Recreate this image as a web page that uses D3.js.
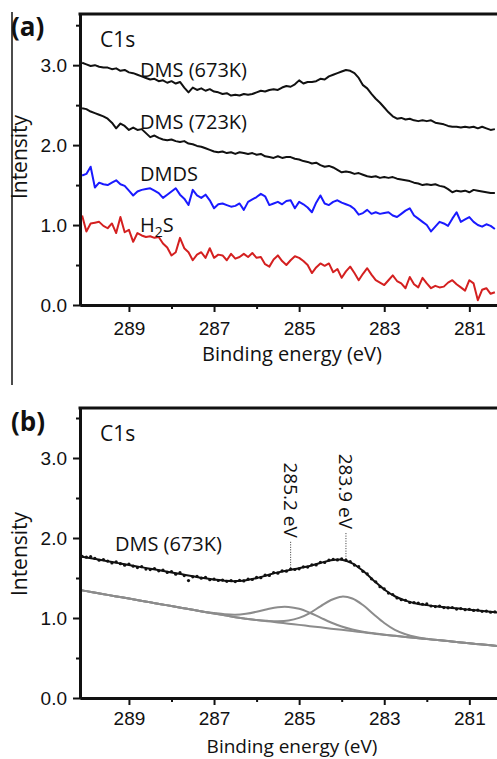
<!DOCTYPE html>
<html>
<head>
<meta charset="utf-8">
<script src="https://cdn.jsdelivr.net/npm/d3@7"></script>
<style>
  html, body { margin: 0; padding: 0; background: #fff; }
  svg { display: block; font-family: "Open Sans", "DejaVu Sans", sans-serif; }
  .tick text { font-size: 19px; fill: #111; }
</style>
</head>
<body>
<svg id="chart" width="497" height="759"></svg>
<script>
// ---- C1s spectra, binding energy 290.1 -> 280.4 eV in 0.1 eV steps ----
const energy = d3.range(98).map(i => +(290.1 - 0.1 * i).toFixed(1));

const dms673 = [
  3.03, 3.01, 2.99, 3.00, 2.98, 2.97, 2.97, 2.95, 2.96, 2.93,
  2.94, 2.91, 2.90, 2.88, 2.86, 2.84, 2.82, 2.83, 2.80, 2.81,
  2.78, 2.80, 2.77, 2.79, 2.72, 2.66, 2.72, 2.69, 2.71, 2.68,
  2.70, 2.67, 2.66, 2.64, 2.65, 2.62, 2.63, 2.62, 2.64, 2.63,
  2.64, 2.66, 2.68, 2.67, 2.69, 2.70, 2.69, 2.72, 2.74, 2.73,
  2.76, 2.81, 2.77, 2.79, 2.79, 2.80, 2.83, 2.82, 2.86, 2.88,
  2.90, 2.92, 2.94, 2.93, 2.90, 2.84, 2.75, 2.71, 2.64, 2.58,
  2.53, 2.47, 2.41, 2.36, 2.33, 2.34, 2.32, 2.33, 2.31, 2.30,
  2.31, 2.30, 2.31, 2.28, 2.27, 2.26, 2.24, 2.23, 2.23, 2.22,
  2.23, 2.22, 2.23, 2.21, 2.23, 2.21, 2.19, 2.20
];

const dms723 = [
  2.46, 2.45, 2.42, 2.40, 2.38, 2.36, 2.33, 2.28, 2.21, 2.27,
  2.24, 2.19, 2.22, 2.19, 2.20, 2.15, 2.10, 2.12, 2.09, 2.07,
  2.06, 2.07, 2.05, 2.04, 2.05, 2.02, 2.01, 1.99, 1.98, 1.96,
  1.94, 1.92, 1.91, 1.92, 1.90, 1.91, 1.89, 1.91, 1.90, 1.89,
  1.90, 1.88, 1.89, 1.86, 1.85, 1.84, 1.86, 1.84, 1.85, 1.85,
  1.83, 1.82, 1.80, 1.79, 1.77, 1.78, 1.75, 1.73, 1.74, 1.72,
  1.69, 1.66, 1.67, 1.66, 1.64, 1.65, 1.63, 1.61, 1.60, 1.61,
  1.59, 1.60, 1.59, 1.60, 1.58, 1.57, 1.56, 1.55, 1.53, 1.52,
  1.50, 1.51, 1.50, 1.51, 1.49, 1.48, 1.45, 1.41, 1.43, 1.42,
  1.43, 1.41, 1.44, 1.43, 1.42, 1.41, 1.40, 1.40
];

const dmds = [
  1.62, 1.64, 1.73, 1.47, 1.53, 1.51, 1.50, 1.53, 1.56, 1.51,
  1.49, 1.43, 1.37, 1.42, 1.44, 1.45, 1.46, 1.43, 1.40, 1.34,
  1.38, 1.42, 1.46, 1.38, 1.33, 1.25, 1.44, 1.37, 1.34, 1.38,
  1.31, 1.21, 1.26, 1.27, 1.25, 1.23, 1.24, 1.27, 1.19, 1.29,
  1.32, 1.35, 1.39, 1.36, 1.25, 1.27, 1.29, 1.26, 1.30, 1.31,
  1.21, 1.29, 1.26, 1.22, 1.16, 1.28, 1.37, 1.27, 1.25, 1.29,
  1.31, 1.28, 1.26, 1.24, 1.20, 1.13, 1.15, 1.19, 1.14, 1.16,
  1.14, 1.15, 1.16, 1.12, 1.10, 1.14, 1.18, 1.21, 1.12, 1.08,
  1.04, 1.00, 0.92, 0.98, 1.04, 1.02, 0.99, 1.08, 1.16, 1.04,
  1.07, 1.10, 1.04, 1.00, 0.98, 1.01, 0.99, 0.95
];

const h2s = [
  1.12, 0.92, 1.02, 1.03, 1.04, 0.99, 0.96, 1.02, 0.90, 1.10,
  0.91, 0.94, 0.79, 0.90, 0.87, 0.85, 0.86, 0.84, 0.85, 0.77,
  0.72, 0.62, 0.66, 0.84, 0.71, 0.66, 0.56, 0.63, 0.66, 0.59,
  0.71, 0.59, 0.63, 0.62, 0.56, 0.64, 0.58, 0.60, 0.64, 0.60,
  0.65, 0.59, 0.60, 0.51, 0.48, 0.57, 0.62, 0.55, 0.50, 0.56,
  0.61, 0.59, 0.55, 0.50, 0.40, 0.47, 0.52, 0.49, 0.52, 0.41,
  0.45, 0.34, 0.42, 0.48, 0.40, 0.31, 0.39, 0.46, 0.38, 0.31,
  0.28, 0.25, 0.31, 0.37, 0.30, 0.27, 0.21, 0.35, 0.26, 0.22,
  0.34, 0.27, 0.21, 0.24, 0.22, 0.23, 0.28, 0.31, 0.26, 0.22,
  0.18, 0.31, 0.27, 0.06, 0.19, 0.21, 0.14, 0.16
];

// measured DMS (673K) points shown with the peak fit
const dmsPoints = [
  1.772, 1.760, 1.768, 1.745, 1.722, 1.730, 1.712, 1.688, 1.702, 1.679,
  1.660, 1.675, 1.648, 1.630, 1.642, 1.611, 1.605, 1.619, 1.590, 1.600,
  1.570, 1.581, 1.548, 1.566, 1.530, 1.468, 1.515, 1.522, 1.498, 1.507,
  1.478, 1.486, 1.469, 1.474, 1.458, 1.467, 1.455, 1.470, 1.463, 1.485,
  1.481, 1.507, 1.504, 1.536, 1.531, 1.566, 1.560, 1.590, 1.585, 1.612,
  1.606, 1.615, 1.640, 1.636, 1.665, 1.664, 1.697, 1.694, 1.724, 1.733,
  1.726, 1.738, 1.724, 1.706, 1.662, 1.641, 1.584, 1.551, 1.490, 1.452,
  1.392, 1.363, 1.312, 1.294, 1.250, 1.228, 1.222, 1.195, 1.192, 1.186,
  1.172, 1.176, 1.150, 1.143, 1.149, 1.130, 1.127, 1.131, 1.112, 1.118,
  1.104, 1.109, 1.095, 1.099, 1.083, 1.087, 1.072, 1.077
];

// ---- peak fit components, 290.25 -> 280.25 eV in 0.25 eV steps ----
const fitEnergy = d3.range(41).map(i => +(290.25 - 0.25 * i).toFixed(2));

const background = [
  1.359, 1.336, 1.313, 1.289, 1.266, 1.243, 1.219, 1.196, 1.173, 1.149,
  1.126, 1.103, 1.079, 1.056, 1.033, 1.009, 0.991, 0.975, 0.960, 0.945,
  0.929, 0.914, 0.898, 0.883, 0.867, 0.852, 0.836, 0.821, 0.805, 0.790,
  0.777, 0.764, 0.750, 0.737, 0.724, 0.711, 0.698, 0.684, 0.671, 0.658,
  0.645
];

// component centred at 285.2 eV (height above background)
const peak285 = [
  0, 0, 0, 0, 0, 0, 0, 0, 0, 0,
  0, 0, 0, 0.006, 0.014, 0.032, 0.062, 0.103, 0.150, 0.190,
  0.209, 0.201, 0.168, 0.122, 0.077, 0.042, 0.020, 0.008, 0.003, 0,
  0, 0, 0, 0, 0, 0, 0, 0, 0, 0,
  0
];

// component centred at 283.9 eV (height above background)
const peak2839 = [
  0, 0, 0, 0, 0, 0, 0, 0, 0, 0,
  0, 0, 0, 0, 0, 0, 0, 0, 0.005, 0.015,
  0.039, 0.087, 0.164, 0.263, 0.358, 0.415, 0.408, 0.341, 0.242, 0.147,
  0.075, 0.033, 0.012, 0.004, 0, 0, 0, 0, 0, 0,
  0
];

// vertical shift of the measured spectrum above the fit components
const spectrumOffset = 0.42;

const peakLabels = [
  { energy: 285.2, text: "285.2 eV" },
  { energy: 283.9, text: "283.9 eV" }
];

const xTicks = [289, 287, 285, 283, 281];
const xMinorTicks = [288, 286, 284, 282];
const yTicks = [0, 1, 2, 3];
const yMinorTicks = [0.5, 1.5, 2.5, 3.5];

// ---------------------------------------------------------------
const svg = d3.select("#chart");
svg.append("rect").attr("width", 497).attr("height", 759).attr("fill", "#fff");

const x = d3.scaleLinear().domain([290.15, 280.35]).range([80, 497]);

function drawPanel(cfg) {
  const y = d3.scaleLinear().domain([0, cfg.yMax]).range([cfg.bottom, cfg.top]);
  const g = svg.append("g");

  const clipId = "clip-" + cfg.name;
  svg.append("clipPath").attr("id", clipId)
    .append("rect")
    .attr("x", 81).attr("y", cfg.top)
    .attr("width", 497 - 81).attr("height", cfg.bottom - cfg.top);
  const plot = g.append("g").attr("clip-path", `url(#${clipId})`);

  // axes
  const yAxis = d3.axisLeft(y).tickValues(yTicks).tickSize(7).tickPadding(6)
    .tickSizeOuter(0).tickFormat(d3.format(".1f"));
  const yMinor = d3.axisLeft(y).tickValues(yMinorTicks).tickSize(4)
    .tickSizeOuter(0).tickFormat("");
  const xAxis = d3.axisBottom(x).tickValues(xTicks).tickSize(7)
    .tickPadding(cfg.xPad).tickSizeOuter(0).tickFormat(d3.format("d"));
  const xMinor = d3.axisBottom(x).tickValues(xMinorTicks).tickSize(4)
    .tickSizeOuter(0).tickFormat("");

  g.append("g").attr("transform", "translate(80,0)").call(yAxis);
  g.append("g").attr("transform", "translate(80,0)").call(yMinor);
  g.append("g").attr("transform", `translate(0,${cfg.bottom})`).call(xAxis);
  g.append("g").attr("transform", `translate(0,${cfg.bottom})`).call(xMinor);

  g.selectAll(".domain").attr("stroke", "#111").attr("stroke-width", 3);
  g.selectAll(".tick line").attr("stroke", "#111").attr("stroke-width", 2);

  // top frame line
  g.append("line")
    .attr("x1", 78.5).attr("x2", 497)
    .attr("y1", cfg.top).attr("y2", cfg.top)
    .attr("stroke", "#111").attr("stroke-width", 3);

  // axis titles
  g.append("text")
    .attr("x", 292).attr("y", cfg.titleBase)
    .attr("text-anchor", "middle")
    .style("font-size", cfg.titleSize).attr("fill", "#111")
    .text("Binding energy (eV)");
  g.append("text")
    .attr("transform", `translate(27,${cfg.ylabelCenter}) rotate(-90)`)
    .attr("text-anchor", "middle")
    .style("font-size", "21px").attr("fill", "#111")
    .text("Intensity");

  // panel letter and core level
  g.append("text")
    .attr("x", 11).attr("y", cfg.letterBase)
    .style("font-size", "26px").style("font-weight", "bold").attr("fill", "#111")
    .text(cfg.letter);
  g.append("text")
    .attr("x", 100).attr("y", cfg.c1sBase)
    .style("font-size", "21px").attr("fill", "#111")
    .text("C1s");

  return { g, plot, y };
}

// ---------------- panel (a) ----------------
const A = drawPanel({
  name: "a", top: 14, bottom: 305, yMax: 3.64, xPad: 10, titleSize: "20px",
  titleBase: 361, ylabelCenter: 157, letter: "(a)", letterBase: 36, c1sBase: 47
});

const lineA = d3.line().x((d, i) => x(energy[i])).y(d => A.y(d));
const seriesA = [
  { values: dms673, color: "#111111" },
  { values: dms723, color: "#111111" },
  { values: dmds, color: "#1a1aff" },
  { values: h2s, color: "#d42020" }
];
A.plot.selectAll("path.spec").data(seriesA).join("path")
  .attr("class", "spec")
  .attr("d", d => lineA(d.values))
  .attr("fill", "none")
  .attr("stroke", d => d.color)
  .attr("stroke-width", 2)
  .attr("stroke-linejoin", "round");

const labelA = [
  { text: "DMS (673K)", e: 288.74, v: 2.85 },
  { text: "DMS (723K)", e: 288.74, v: 2.2 },
  { text: "DMDS", e: 288.74, v: 1.55 }
];
A.g.selectAll("text.slabel").data(labelA).join("text")
  .attr("class", "slabel")
  .attr("x", d => x(d.e)).attr("y", d => A.y(d.v))
  .style("font-size", "20px").attr("fill", "#111")
  .text(d => d.text);
const h2sLabel = A.g.append("text")
  .attr("x", x(288.74)).attr("y", A.y(0.91))
  .style("font-size", "20px").attr("fill", "#111");
h2sLabel.append("tspan").text("H");
h2sLabel.append("tspan").text("2").style("font-size", "14px").attr("dy", 5);
h2sLabel.append("tspan").text("S").attr("dy", -5);

// left rule of panel (a)
svg.append("line")
  .attr("x1", 12).attr("x2", 12).attr("y1", 12).attr("y2", 385)
  .attr("stroke", "#111").attr("stroke-width", 1.5);

// ---------------- panel (b) ----------------
const B = drawPanel({
  name: "b", top: 408, bottom: 698, yMax: 3.625, xPad: 7, titleSize: "19px",
  titleBase: 753, ylabelCenter: 554, letter: "(b)", letterBase: 431, c1sBase: 441
});

const smooth = d3.line()
  .x((d, i) => x(fitEnergy[i]))
  .y(d => B.y(d))
  .curve(d3.curveCatmullRom);

const comp1 = background.map((b, i) => b + peak285[i]);
const comp2 = background.map((b, i) => b + peak2839[i]);
const envelope = background.map((b, i) => b + peak285[i] + peak2839[i] + spectrumOffset);

B.plot.selectAll("path.comp").data([background, comp1, comp2]).join("path")
  .attr("class", "comp")
  .attr("d", smooth)
  .attr("fill", "none")
  .attr("stroke", "#8c8c8c")
  .attr("stroke-width", 2);

B.plot.append("path")
  .attr("d", smooth(envelope))
  .attr("fill", "none")
  .attr("stroke", "#111")
  .attr("stroke-width", 2);

B.plot.selectAll("circle.pt").data(dmsPoints).join("circle")
  .attr("class", "pt")
  .attr("cx", (d, i) => x(energy[i]))
  .attr("cy", d => B.y(d))
  .attr("r", 1.6)
  .attr("fill", "#111");

// peak markers: dotted drop line + rotated label
const envAt = e => {
  const i = d3.bisector(d => -d).left(fitEnergy, -e);
  const e0 = fitEnergy[i - 1], e1 = fitEnergy[i];
  const t = (e0 - e) / (e0 - e1);
  return envelope[i - 1] + t * (envelope[i] - envelope[i - 1]);
};
peakLabels.forEach(p => {
  const px = x(p.energy);
  const yBottom = B.y(envAt(p.energy)) - 2;
  const yTop = yBottom - 27;
  B.g.append("line")
    .attr("x1", px).attr("x2", px)
    .attr("y1", yBottom).attr("y2", yTop)
    .attr("stroke", "#333").attr("stroke-width", 1)
    .attr("stroke-dasharray", "1,1.5");
  B.g.append("text")
    .attr("transform", `translate(${px},${yTop - 3}) rotate(90)`)
    .attr("text-anchor", "end")
    .attr("dy", "0.35em")
    .style("font-size", "19px").attr("fill", "#111")
    .text(p.text);
});

B.g.append("text")
  .attr("x", x(289.33)).attr("y", B.y(1.84))
  .style("font-size", "20px").attr("fill", "#111")
  .text("DMS (673K)");
</script>
</body>
</html>
